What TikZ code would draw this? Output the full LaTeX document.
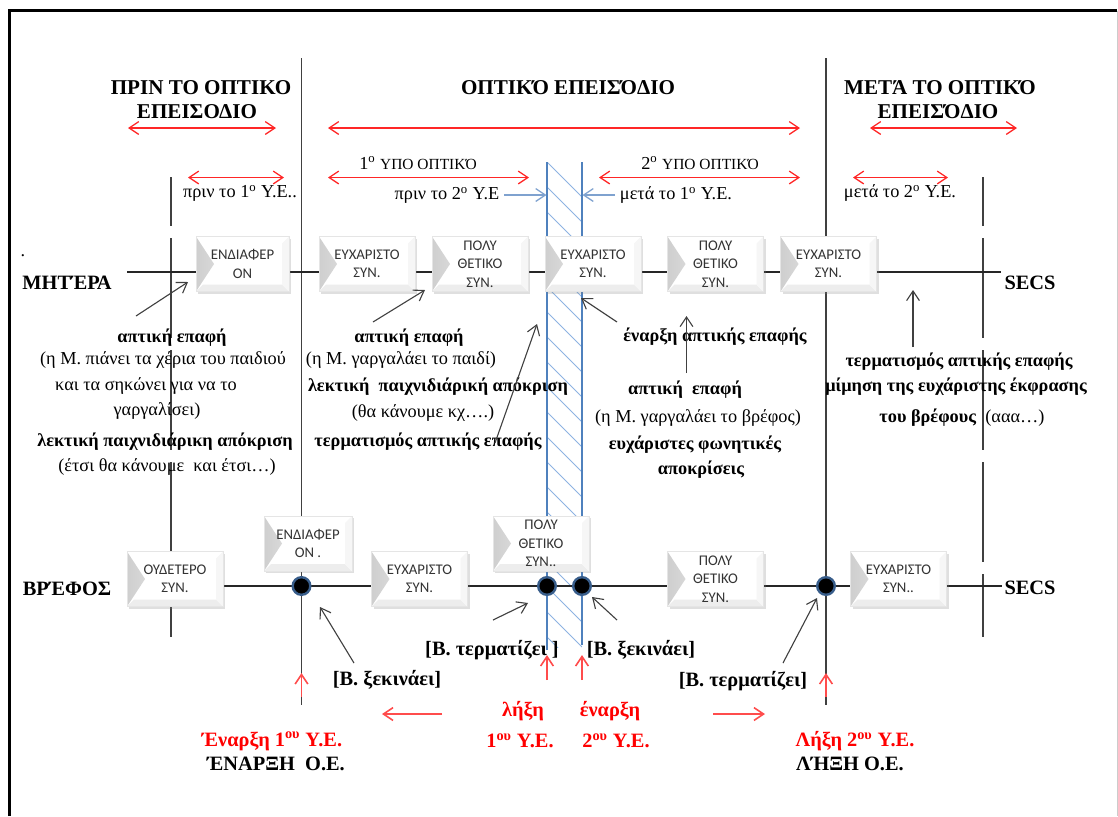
\documentclass[tikz,border=0pt]{standalone}
\usepackage{fontspec}
\setmainfont{Liberation Serif}
\newfontfamily\boxfont{Carlito}
\usetikzlibrary{arrows.meta, calc, shadows}
\definecolor{bandblue}{HTML}{4F81BD}
\definecolor{hatchblue}{HTML}{8DB3E2}
\definecolor{ptblue}{HTML}{7FA2CF}
\definecolor{dotrim}{HTML}{385D8A}
\definecolor{linegray}{HTML}{404040}
\tikzset{
    hd/.style={font=\fontsize{15}{17}\selectfont\bfseries},
    txt/.style={font=\fontsize{13}{15}\selectfont},
    btxt/.style={font=\fontsize{13}{15}\selectfont\bfseries},
    lbl/.style={font=\fontsize{14.5}{16}\selectfont\bfseries},
    rlbl/.style={font=\fontsize{14.5}{16}\selectfont\bfseries, text=red},
    span/.style={draw=red!85, line width=0.32mm,
        {Straight Barb[length=2.4mm,width=3.2mm]}-{Straight Barb[length=2.4mm,width=3.2mm]}},
    rup/.style={draw=red!70, line width=0.4mm, -{Straight Barb[length=2.4mm,width=3.2mm]}},
    pointer/.style={draw=linegray, line width=0.28mm, -{Straight Barb[length=2.4mm,width=3.2mm]}},
    bluept/.style={draw=ptblue, line width=0.32mm, -{Straight Barb[length=2.4mm,width=3.2mm]}},
    axis/.style={draw=linegray, line width=0.4mm},
    dashaxis/.style={draw=linegray, line width=0.4mm, dash pattern=on 25mm off 3mm, dash phase=12.75mm},
    tline/.style={draw=black!85, line width=0.35mm},
    junction/.style={circle, fill=black, draw=dotrim, line width=0.6mm, inner sep=0pt, minimum size=4.4mm},
    state/.style={minimum width=24mm, minimum height=13.75mm, inner sep=0pt, align=center,
        font=\boxfont\fontsize{10.5}{13}\selectfont, text=black!80, fill=white, draw=gray!20,
        drop shadow={shadow xshift=0.5mm, shadow yshift=-0.6mm, opacity=0.25},
        path picture={
            \fill[left color=gray!38, right color=white]
                (path picture bounding box.north west) --
                ($(path picture bounding box.west)+(4.5mm,0)$) --
                (path picture bounding box.south west) -- cycle;
            \fill[gray!14]
                (path picture bounding box.south west) -- ++(1.7mm,1.7mm) --
                ($(path picture bounding box.south east)+(-1.7mm,1.7mm)$) --
                (path picture bounding box.south east) -- cycle;
            \fill[gray!7]
                (path picture bounding box.south east) -- ++(-1.7mm,1.7mm) --
                ($(path picture bounding box.north east)+(-1.7mm,-1.7mm)$) --
                (path picture bounding box.north east) -- cycle;
        }},
}

\begin{document}
\begin{tikzpicture}[x=0.25mm, y=-0.25mm]
                 \useasboundingbox (0,0) rectangle (1118,816);

                 \draw[line width=0.75mm] (9,816) -- (9,10.5) -- (1117,10.5);
                 \draw[gray!40, line width=0.25mm] (1117,10.5) -- (1117,816);

                 \coordinate (lt) at (301.5,58);
                 \coordinate (lb) at (301.5,705);
                 \coordinate (rt) at (826,58);
                 \coordinate (rb) at (826,705);
                 \coordinate (dlt) at (171,177);
                 \coordinate (dlb) at (171,637);
                 \coordinate (drt) at (983,177);
                 \coordinate (drb) at (983,637);
                 \draw[axis] (lt) -- (lb);
                 \draw[axis] (rt) -- (rb);
                 \draw[dashaxis] (dlt) -- (dlb);
                 \draw[dashaxis] (drt) -- (drb);

                 \begin{scope}
                     \clip (547,162) rectangle (582,647);
                     \foreach \k in {0,...,20}
                         \draw[hatchblue, line width=0.22mm] (547,{162+25*\k}) -- ++(35,35);
                 \end{scope}
                 \coordinate (bandlt) at (547,162);
                 \coordinate (bandlb) at (547,650);
                 \coordinate (bandrt) at (582,162);
                 \coordinate (bandrb) at (582,645);
                 \draw[bandblue, line width=0.3mm] (bandlt) -- (bandlb);
                 \draw[bandblue, line width=0.3mm] (bandrt) -- (bandrb);

                 \node[hd] (preA) at (201,88) {ΠΡΙΝ ΤΟ ΟΠΤΙΚΟ};
                 \node[hd] (preB) at (197,111.5) {ΕΠΕΙΣΟΔΙΟ};
                 \node[hd] (oe) at (568,88) {ΟΠΤΙΚΌ ΕΠΕΙΣΌΔΙΟ};
                 \node[hd] (postA) at (940,88) {ΜΕΤΆ ΤΟ ΟΠΤΙΚΌ};
                 \node[hd] (postB) at (938,111.5) {ΕΠΕΙΣΌΔΙΟ};

                 \coordinate (s1a) at (128,128);   \coordinate (s1b) at (276,128);
                 \coordinate (s2a) at (328,128);   \coordinate (s2b) at (800,128);
                 \coordinate (s3a) at (870,128);   \coordinate (s3b) at (1017,128);
                 \coordinate (s4a) at (188,177.5); \coordinate (s4b) at (284,177.5);
                 \coordinate (s5a) at (328,177.5); \coordinate (s5b) at (529,177.5);
                 \coordinate (s6a) at (599,177.5); \coordinate (s6b) at (800,177.5);
                 \coordinate (s7a) at (853,177.5); \coordinate (s7b) at (948,177.5);
                 \draw[span] (s1a) -- (s1b);
                 \draw[span] (s2a) -- (s2b);
                 \draw[span] (s3a) -- (s3b);
                 \draw[span] (s4a) -- (s4b);
                 \draw[span] (s5a) -- (s5b);
                 \draw[span] (s6a) -- (s6b);
                 \draw[span] (s7a) -- (s7b);

                 \node[txt] (sub1) at (418,163) {1\textsuperscript{ο} {\fontsize{11}{13}\selectfont ΥΠΟ ΟΠΤΙΚΌ}};
                 \node[txt] (sub2) at (700,163) {2\textsuperscript{ο} {\fontsize{11}{13}\selectfont ΥΠΟ ΟΠΤΙΚΌ}};
                 \node[txt] (bef1) at (240,193) {πριν το 1\textsuperscript{ο} Υ.Ε..};
                 \node[txt] (bef2) at (447,195) {πριν το 2\textsuperscript{ο} Υ.Ε};
                 \node[txt] (aft1) at (676,195) {μετά το 1\textsuperscript{ο} Υ.Ε.};
                 \node[txt] (aft2) at (900,193) {μετά το 2\textsuperscript{ο} Υ.Ε.};
                 \coordinate (bl) at (546.5,195);
                 \coordinate (br) at (582.5,195);
                 \draw[bluept] (bef2.east) -- (bl);
                 \draw[bluept] (aft1.west) -- (br);

                 \node[txt] (momdot) at (23,256) {.};
                 \node[lbl] (mom) at (67,283) {ΜΗΤΈΡΑ};
                 \node[lbl] (momsecs) at (1030,283) {SECS};
                 \node[lbl] (baby) at (67,589) {ΒΡΈΦΟΣ};
                 \node[lbl] (babysecs) at (1030,588) {SECS};

                 \coordinate (ms) at (127,272);
                 \coordinate (me) at (1001,272);
                 \coordinate (bs) at (127,586);
                 \coordinate (be) at (1002,586);
                 \draw[tline] (ms) -- (me);
                 \draw[tline] (bs) -- (be);

                 \node[state, minimum width=23.25mm] (m1) at (242.5,264) {ΕΝΔΙΑΦΕΡ\\ΟΝ};
                 \node[state] (m2) at (367,264) {ΕΥΧΑΡΙΣΤΟ\\ΣΥΝ.};
                 \node[state] (m3) at (480,264) {ΠΟΛΥ\\ΘΕΤΙΚΟ\\ΣΥΝ.};
                 \node[state] (m4) at (593,264) {ΕΥΧΑΡΙΣΤΟ\\ΣΥΝ.};
                 \node[state] (m5) at (715.5,264) {ΠΟΛΥ\\ΘΕΤΙΚΟ\\ΣΥΝ.};
                 \node[state] (m6) at (828.5,264) {ΕΥΧΑΡΙΣΤΟ\\ΣΥΝ.};

                 \node[state] (b1) at (175,579) {ΟΥΔΕΤΕΡΟ\\ΣΥΝ.};
                 \node[state, minimum width=22mm] (b2) at (308,543.5) {ΕΝΔΙΑΦΕΡ\\ΟΝ .};
                 \node[state] (b3) at (419.5,579) {ΕΥΧΑΡΙΣΤΟ\\ΣΥΝ.};
                 \node[state] (b4) at (541,543.5) {ΠΟΛΥ\\ΘΕΤΙΚΟ\\ΣΥΝ..};
                 \node[state] (b5) at (715.5,579) {ΠΟΛΥ\\ΘΕΤΙΚΟ\\ΣΥΝ.};
                 \node[state] (b6) at (898.5,579) {ΕΥΧΑΡΙΣΤΟ\\ΣΥΝ..};

                 \node[junction] (j1) at (301.5,586) {};
                 \node[junction] (j2) at (547,586) {};
                 \node[junction] (j3) at (582,586) {};
                 \node[junction] (j4) at (826,586) {};

                 \node[btxt] (la1) at (172,338) {απτική επαφή};
                 \node[txt] (la2) at (163,360) {(η Μ. πιάνει τα χέρια του παιδιού};
                 \node[txt] (la3) at (146,386) {και τα σηκώνει για να το};
                 \node[txt] (la4) at (157,411) {γαργαλίσει)};
                 \node[btxt] (la5) at (165,442) {λεκτική παιχνιδιάρικη απόκριση};
                 \node[txt] (la6) at (167,467) {(έτσι θα κάνουμε\ \ και έτσι…)};

                 \node[btxt] (lb1) at (409,338) {απτική επαφή};
                 \node[txt] (lb2) at (401,360) {(η Μ. γαργαλάει το παιδί)};
                 \node[btxt] (lb3) at (438,387) {λεκτική\ \ παιχνιδιάρική απόκριση};
                 \node[txt] (lb4) at (423,413) {(θα κάνουμε κχ….)};
                 \node[btxt] (lb5) at (428,442) {τερματισμός απτικής επαφής};

                 \node[btxt] (lc1) at (715,337) {έναρξη απτικής επαφής};
                 \node[btxt] (lc2) at (685,390) {απτική\ \ επαφή};
                 \node[txt] (lc3) at (698,418) {(η Μ. γαργαλάει το βρέφος)};
                 \node[btxt] (lc4) at (695,445) {ευχάριστες φωνητικές};
                 \node[btxt] (lc5) at (701,470) {αποκρίσεις};

                 \node[btxt] (ld1) at (959,362) {τερματισμός απτικής επαφής};
                 \node[btxt] (ld2) at (956,387) {μίμηση της ευχάριστης έκφρασης};
                 \node[txt] (ld3) at (962,418) {\textbf{του βρέφους}\ \ (ααα…)};

                 \coordinate (p1) at (136,316);   \coordinate (p1t) at (188,282);
                 \coordinate (p2) at (373,322);   \coordinate (p2t) at (425,290);
                 \coordinate (p3) at (495,443);   \coordinate (p3t) at (537,324);
                 \coordinate (p4) at (617,322);   \coordinate (p4t) at (581,298);
                 \coordinate (p5) at (686.5,373); \coordinate (p5t) at (686.5,316);
                 \coordinate (p6) at (913,347);   \coordinate (p6t) at (913,290);
                 \draw[pointer] (p1) -- (p1t);
                 \draw[pointer] (p2) -- (p2t);
                 \draw[pointer] (p3) -- (p3t);
                 \draw[pointer] (p4) -- (p4t);
                 \draw[pointer] (p5) -- (p5t);
                 \draw[pointer] (p6) -- (p6t);

                 \coordinate (q1) at (354,663);   \coordinate (q1t) at (320,607);
                 \coordinate (q2) at (493,620);   \coordinate (q2t) at (528,603);
                 \coordinate (q3) at (617,620);   \coordinate (q3t) at (592,597);
                 \coordinate (q4) at (783,663);   \coordinate (q4t) at (817,598);
                 \draw[pointer] (q1) -- (q1t);
                 \draw[pointer] (q2) -- (q2t);
                 \draw[pointer] (q3) -- (q3t);
                 \draw[pointer] (q4) -- (q4t);

                 \node[lbl] (k1) at (492,650) {[Β. τερματίζει ]};
                 \node[lbl] (k2) at (641,650) {[Β. ξεκινάει]};
                 \node[lbl] (k3) at (387,680) {[Β. ξεκινάει]};
                 \node[lbl] (k4) at (743,681) {[Β. τερματίζει]};

                 \coordinate (u1) at (301.5,697); \coordinate (u1t) at (301.5,673);
                 \coordinate (u2) at (547,680);   \coordinate (u2t) at (547,655);
                 \coordinate (u3) at (582,680);   \coordinate (u3t) at (582,655);
                 \coordinate (u4) at (826,697);   \coordinate (u4t) at (826,673);
                 \coordinate (h1) at (442,714);   \coordinate (h1t) at (382,714);
                 \coordinate (h2) at (713,714);   \coordinate (h2t) at (765,714);
                 \draw[rup] (u1) -- (u1t);
                 \draw[rup] (u2) -- (u2t);
                 \draw[rup] (u3) -- (u3t);
                 \draw[rup] (u4) -- (u4t);
                 \draw[rup] (h1) -- (h1t);
                 \draw[rup] (h2) -- (h2t);

                 \node[rlbl] (t1) at (272,741) {Έναρξη 1\textsuperscript{ου} Υ.Ε.};
                 \node[lbl] (t2) at (276,764) {ΈΝΑΡΞΗ\ \ Ο.Ε.};
                 \node[rlbl] (t3) at (523,711) {λήξη};
                 \node[rlbl] (t4) at (520,741) {1\textsuperscript{ου} Υ.Ε.};
                 \node[rlbl] (t5) at (610,711) {έναρξη};
                 \node[rlbl] (t6) at (616,741) {2\textsuperscript{ου} Υ.Ε.};
                 \node[rlbl] (t7) at (855,741) {Λήξη 2\textsuperscript{ου} Υ.Ε.};
                 \node[lbl] (t8) at (850,764) {ΛΉΞΗ Ο.Ε.};
\end{tikzpicture}
\end{document}
